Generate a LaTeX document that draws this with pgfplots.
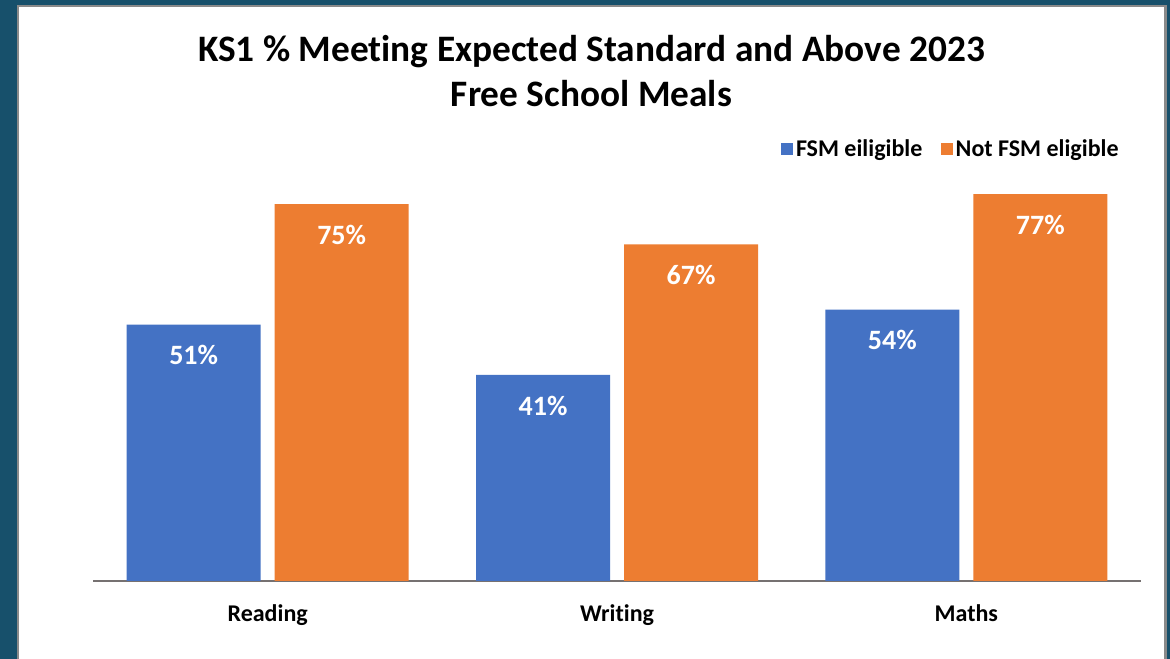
\documentclass[border=0pt]{standalone}
\usepackage{pgfplots}
\pgfplotsset{compat=1.18}
\usepackage{fontspec}
\setmainfont{Carlito}[Ligatures=NoCommon]
\definecolor{bgdark}{HTML}{17506B}
\definecolor{fsmblue}{HTML}{4472C4}
\definecolor{notorange}{HTML}{ED7D31}
\definecolor{axisgrey}{HTML}{767171}
\definecolor{panelgrey}{HTML}{8A8A8A}
\begin{document}
\begin{tikzpicture}
\useasboundingbox (0,0) rectangle (877.5pt,494.25pt);
\fill[bgdark] (0,0) rectangle (877.5pt,494.25pt);
\fill[panelgrey] (12.375pt,-5pt) rectangle (875.25pt,490.5pt);
\fill[white] (14.25pt,-5pt) rectangle (873pt,489pt);
\node[anchor=base, font=\fontsize{28pt}{32pt}\selectfont\bfseries] at (443.6pt,448pt) {KS1 \% Meeting Expected Standard and Above 2023};
\node[anchor=base, font=\fontsize{28pt}{32pt}\selectfont\bfseries] at (443.6pt,414pt) {Free School Meals};
\begin{axis}[
  at={(69.75pt,58.5pt)}, anchor=south west,
  scale only axis, width=786pt, height=301.5pt,
  xmin=-0.5, xmax=2.5, ymin=0, ymax=80,
  axis x line*=bottom, axis y line=none,
  x axis line style={-, draw=axisgrey, line width=1.5pt},
  xtick={0,1,2}, xticklabels={Reading,Writing,Maths},
  major tick length=0pt,
  xticklabel style={anchor=base, yshift=-30.5pt, font=\fontsize{18pt}{21pt}\selectfont\bfseries},
  ytick=\empty,
  /pgf/number format/assume math mode=true,
  ybar, bar width=100.5pt,
  nodes near coords={\pgfmathprintnumber{\pgfplotspointmeta}\%},
  every node near coord/.append style={anchor=center, yshift=-23pt, text=white, font=\fontsize{21pt}{25pt}\selectfont\bfseries},
  legend style={at={(0.819,1.075)}, anchor=center, draw=none, fill=none,
    font=\fontsize{18pt}{21pt}\selectfont\bfseries, legend columns=-1,
    /tikz/every even column/.append style={column sep=12pt}},
  legend image code/.code={\fill[#1] (0pt,-4.5pt) rectangle (9pt,4.5pt);},
]
\addplot[fill=fsmblue, draw=none, bar shift=-55.5pt] coordinates {(0,51) (1,41) (2,54)};
\addplot[fill=notorange, draw=none, bar shift=55.5pt] coordinates {(0,75) (1,67) (2,77)};
\legend{FSM eiligible, Not FSM eligible}
\end{axis}
\end{tikzpicture}
\end{document}
